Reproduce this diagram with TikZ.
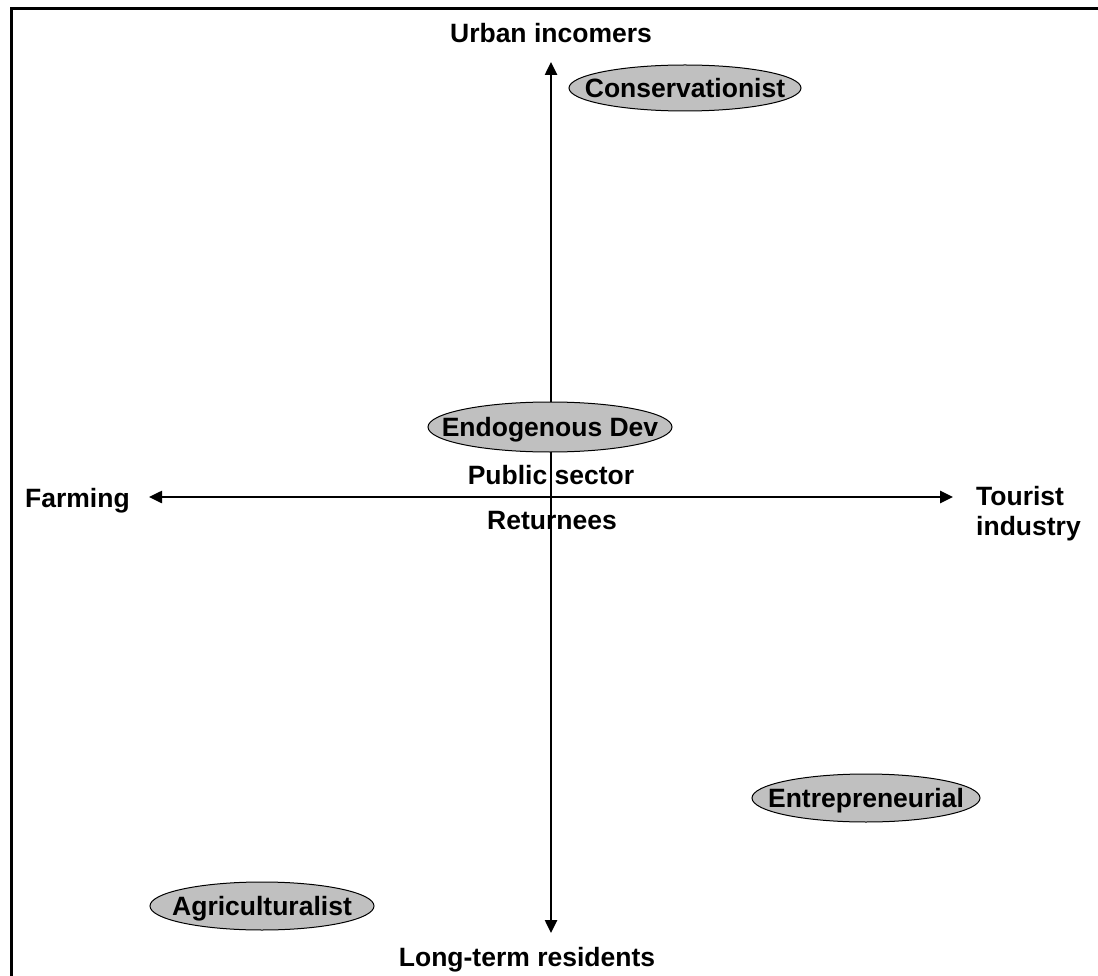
\documentclass[tikz,border=0pt]{standalone}
\usepackage{fontspec}
\setmainfont{Liberation Sans}
\usetikzlibrary{arrows.meta,shapes.geometric}
\definecolor{blobgray}{HTML}{C0C0C0}
\tikzset{>={Triangle[length=13pt,width=12pt]}}

\begin{document}
\begin{tikzpicture}[x=1pt, y=-1pt,
  label/.style={font=\fontsize{26.5}{30}\selectfont\bfseries, inner sep=0pt},
  blob/.style={label, ellipse, draw=black, line width=1pt, fill=blobgray,
    inner xsep=-30pt, inner ysep=0pt, text height=19pt, text depth=0pt},
  axis/.style={line width=2.5pt, <->}]

  \useasboundingbox (0,0) rectangle (1098,976);

  % frame, only its top and left edges are in view
  \draw[line width=3pt] (11,976) -- (11,8.5) -- (1098,8.5);

  % ends of the two axes
  \coordinate (north) at (551,62);
  \coordinate (south) at (551,933);
  \coordinate (west) at (149,497);
  \coordinate (east) at (953,497);

  % axis labels
  \node[label, anchor=base] (urban) at (551,43) {Urban incomers};
  \node[label, anchor=base] (longterm) at (527,966) {Long-term residents};
  \node[label, anchor=base west] (farming) at (25,507) {Farming};
  \node[label, anchor=north west, align=left] (tourist) at (976,486) {Tourist\\industry};
  \node[label, anchor=base] (public) at (551,484) {Public sector};
  \node[label, anchor=base] (returnees) at (552,529) {Returnees};

  % axes
  \draw[axis] (west) -- (east);
  \draw[axis] (south) -- (north);

  % the four styles of development
  \node[blob, minimum width=232pt, minimum height=46pt] (conserv) at (685,88) {Conservationist};
  \node[blob, minimum width=244pt, minimum height=50pt] (endo) at (550,427) {Endogenous Dev};
  \node[blob, minimum width=228pt, minimum height=48pt] (entre) at (866,798) {Entrepreneurial};
  \node[blob, minimum width=224pt, minimum height=48pt] (agri) at (262,906) {Agriculturalist};

\end{tikzpicture}
\end{document}
